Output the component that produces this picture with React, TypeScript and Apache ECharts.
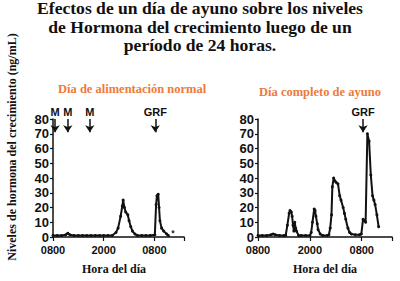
import React, { useEffect, useRef } from "react";
import * as echarts from "echarts";

const titleLines = [
  "Efectos de un día de ayuno sobre los niveles",
  "de Hormona del crecimiento luego de un",
  "período de 24 horas.",
];
const panelTitles = ["Día de alimentación normal", "Día completo de ayuno"];
const yAxisTitle = "Niveles de hormona del crecimiento (ng/mL)";
const xAxisTitle = "Hora del día";
const xTickHours = [0, 12, 24];
const xTickLabels = ["0800", "2000", "0800"];

// Hours since 08:00 on day 1, GH in ng/mL
const normalHours = [0, 1, 2, 3, 3.5, 4, 5, 6, 7, 8, 9, 10, 11, 12, 13, 14, 14.9, 15.4, 16.0, 16.4, 16.6, 16.9, 17.2, 17.7, 18.0, 18.4, 18.8, 19.4, 20, 21, 22, 23, 24.1, 24.4, 24.6, 24.9, 25.1, 25.3, 25.7, 26.2, 26.9, 27.3];
const normalGH = [1, 1, 1, 1.5, 2.5, 1.5, 1, 1, 1, 1, 1, 1, 1, 1, 1, 1, 3, 6, 14, 21, 25, 20, 17, 15, 11, 7, 4, 2, 1, 1, 1, 1, 1.5, 22, 28, 29, 20, 11, 6, 4, 2, 1];
const normalStrayHours = [28.4];
const normalStrayGH = [3.5];

const fastHours = [0, 1, 2, 3, 3.5, 4, 5, 6, 6.4, 6.8, 7.2, 7.4, 7.7, 7.9, 8.1, 8.3, 8.5, 8.7, 8.9, 9.4, 10, 11, 12, 12.3, 12.6, 13.0, 13.2, 13.4, 13.7, 13.9, 14.4, 15, 16, 16.4, 16.7, 17.0, 17.2, 17.5, 17.8, 18.1, 18.5, 18.9, 19.2, 19.7, 20, 20.3, 20.8, 21.2, 21.6, 22.5, 23.5, 23.9, 24.3, 24.7, 24.9, 25.3, 25.7, 26.1, 26.5, 26.8, 27.1, 27.5, 27.9];
const fastGH = [1, 1, 1, 1.5, 2, 1.5, 1, 1, 1, 8, 16, 18, 17, 14, 8, 4, 10, 6, 4, 1, 1, 1, 1, 3, 10, 19, 18, 14, 9, 5, 2, 1, 1, 1.5, 6, 15, 34, 40, 38, 37, 36, 28, 25, 20, 16, 12, 6, 3, 2, 1.5, 1.5, 2, 12, 11, 10, 70, 65, 42, 28, 25, 22, 15, 7];

const normalMarkerLabels = ["M", "M", "M", "GRF"];
const normalMarkerHours = [0.5, 3.5, 8.7, 24.2];
const fastMarkerLabels = ["GRF"];
const fastMarkerHours = [24.3];

const INK = "#111";
const ORANGE = "#ee7a3b";
const SANS = "'Liberation Sans', Arial, sans-serif";
const SERIF = "'Liberation Serif', 'Times New Roman', serif";

function xAxisFor(gridIndex: number) {
  return {
    type: "value",
    gridIndex,
    min: 0,
    max: 31,
    interval: 12,
    axisLine: { show: true, onZero: false, lineStyle: { color: INK, width: 1.5 } },
    axisTick: { show: true, length: 4, lineStyle: { color: INK, width: 1.2 } },
    splitLine: { show: false },
    axisLabel: {
      color: INK,
      fontFamily: SANS,
      fontSize: 11,
      fontWeight: "bold",
      margin: 7,
      formatter: (v: number) => {
        const i = xTickHours.indexOf(v);
        return i >= 0 ? xTickLabels[i] : "";
      },
    },
  };
}

function yAxisFor(gridIndex: number) {
  return {
    type: "value",
    gridIndex,
    min: 0,
    max: 80,
    interval: 10,
    axisLine: { show: true, lineStyle: { color: INK, width: 1.5 } },
    axisTick: { show: true, length: 3, lineStyle: { color: INK, width: 1.2 } },
    splitLine: { show: false },
    axisLabel: { color: INK, fontFamily: SANS, fontSize: 13, fontWeight: "bold", margin: 4 },
  };
}

function markerLine(labels: string[], hours: number[]) {
  return {
    silent: true,
    symbol: ["none", "arrow"],
    symbolSize: 7,
    lineStyle: { color: INK, width: 1.5, type: "solid" },
    label: {
      show: true,
      position: "start",
      distance: 2,
      color: INK,
      fontFamily: SANS,
      fontWeight: "bold",
      fontSize: 11,
      formatter: (p: any) => p.name,
    },
    emphasis: { disabled: true },
    data: hours.map((h, i) => [
      { name: labels[i], coord: [h, 80] },
      { coord: [h, 71] },
    ]),
  };
}

function lineSeries(xi: number, hours: number[], vals: number[], labels: string[], mHours: number[]) {
  return {
    type: "line",
    xAxisIndex: xi,
    yAxisIndex: xi,
    data: hours.map((h, i) => [h, vals[i]]),
    symbol: "circle",
    symbolSize: 3,
    showSymbol: true,
    clip: false,
    itemStyle: { color: INK },
    lineStyle: { color: INK, width: 2 },
    emphasis: { disabled: true },
    markLine: markerLine(labels, mHours),
  };
}

export default function App() {
  const ref = useRef<HTMLDivElement>(null);
  useEffect(() => {
    document.body.style.margin = "0";
    const chart = echarts.init(ref.current!, null, { renderer: "svg" });
    const titleTexts = titleLines.map((t, i) => ({
      type: "text",
      x: 200,
      y: 9 + i * 18.5,
      scaleX: 1.1,
      style: { text: t, fontFamily: SERIF, fontWeight: "bold", fontSize: 16, fill: INK, align: "center", verticalAlign: "middle" },
    }));
    const option: any = {
      animation: false,
      backgroundColor: "#fff",
      grid: [
        { left: 53, top: 119, width: 131, height: 118 },
        { left: 258, top: 119, width: 134, height: 118 },
      ],
      xAxis: [xAxisFor(0), xAxisFor(1)],
      yAxis: [yAxisFor(0), yAxisFor(1)],
      series: [
        lineSeries(0, normalHours, normalGH, normalMarkerLabels, normalMarkerHours),
        {
          type: "scatter",
          xAxisIndex: 0,
          yAxisIndex: 0,
          data: normalStrayHours.map((h, i) => [h, normalStrayGH[i]]),
          symbolSize: 3,
          itemStyle: { color: INK },
        },
        lineSeries(1, fastHours, fastGH, fastMarkerLabels, fastMarkerHours),
      ],
      graphic: [
        ...titleTexts,
        {
          type: "text",
          x: 58,
          y: 89,
          style: { text: panelTitles[0], fontFamily: SERIF, fontWeight: "bold", fontSize: 12.5, fill: ORANGE, verticalAlign: "middle" },
        },
        {
          type: "text",
          x: 259,
          y: 92,
          style: { text: panelTitles[1], fontFamily: SERIF, fontWeight: "bold", fontSize: 12.5, fill: ORANGE, verticalAlign: "middle" },
        },
        {
          type: "text",
          x: 12,
          y: 147,
          rotation: Math.PI / 2,
          style: { text: yAxisTitle, fontFamily: SERIF, fontWeight: "bold", fontSize: 12, fill: INK, align: "center", verticalAlign: "middle" },
        },
        {
          type: "text",
          x: 114,
          y: 269,
          style: { text: xAxisTitle, fontFamily: SERIF, fontWeight: "bold", fontSize: 12, fill: INK, align: "center", verticalAlign: "middle" },
        },
        {
          type: "text",
          x: 325,
          y: 269,
          style: { text: xAxisTitle, fontFamily: SERIF, fontWeight: "bold", fontSize: 12, fill: INK, align: "center", verticalAlign: "middle" },
        },
      ],
    };
    chart.setOption(option);
    return () => chart.dispose();
  }, []);
  return <div ref={ref} style={{ position: "fixed", left: 0, top: 0, width: 400, height: 281 }} />;
}
